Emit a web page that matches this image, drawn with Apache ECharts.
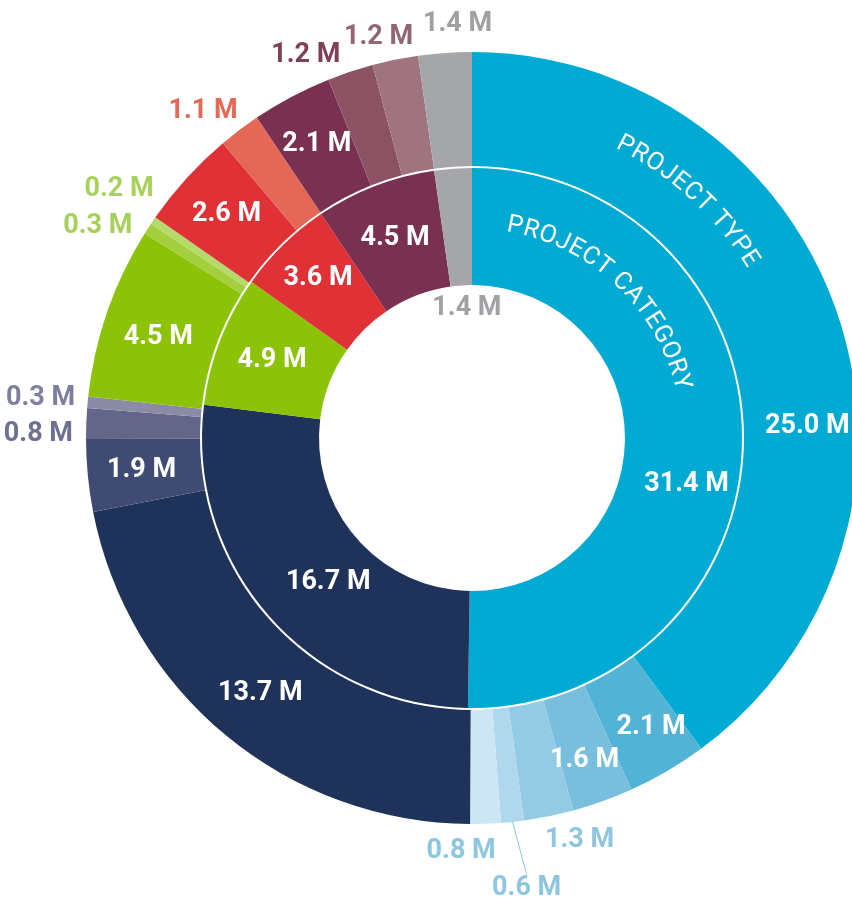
<!DOCTYPE html>
<html>
<head>
<meta charset="utf-8">
<script src="https://cdn.jsdelivr.net/npm/echarts@6/dist/echarts.min.js"></script>
<style>
html, body { margin: 0; padding: 0; background: #fff; }
#chart { width: 852px; height: 902px; }
</style>
</head>
<body>
<div id="chart"></div>
<script>
// funding in millions, clockwise from 12 o'clock
const categoryValues = [31.4, 16.7, 4.9, 3.6, 4.5, 1.4];
const typeValues = [25.0, 2.1, 1.6, 1.3, 0.6, 0.8, 13.7, 1.9, 0.8, 0.3, 4.5, 0.3, 0.2, 2.6, 1.1, 2.1, 1.2, 1.2, 1.4];
const ringTitles = ['PROJECT TYPE', 'PROJECT CATEGORY'];

const categoryColors = ['#00aad2', '#1e325a', '#8cc308', '#e03137', '#7a3050', '#a5a6aa'];
const typeColors = ['#00aad2', '#52b3d6', '#77bfdc', '#93cae4', '#b0d8ec', '#cde6f3',
    '#1e325a', '#404b73', '#636688', '#8b8ba8',
    '#8cc308', '#a3ce3e', '#b6d96c',
    '#e03137', '#e56856',
    '#7a3050', '#8b5264', '#a0747e',
    '#a5a6aa'];
const typeLabelColors = ['#fff', '#fff', '#fff', '#8ec5e0', '#8ec5e0', '#8ec5e0',
    '#fff', '#fff', '#6e7092', '#7e7f9f',
    '#fff', '#a6d05a', '#a8d25c',
    '#fff', '#e56955',
    '#fff', '#7e3f59', '#926571',
    '#9fa0a4'];

const cx = 472, cy = 438;
const innerRadius = [153, 270];
const outerRadius = [272, 386];

// small hand nudges of labels, as the designer placed them
const typeNudge = {0: [20, 92], 1: [11, 3], 2: [0, 10], 3: [26, 1], 4: [12, 46], 5: [-25, 10],
    8: [-5, 12], 9: [-4, 0], 10: [0, 8], 11: [-15, 20], 12: [0, -8], 14: [-15, 10],
    16: [-36, 9], 17: [-12, 0], 18: [14, -10]};
const categoryNudge = {0: [0, 45], 1: [18, 3], 3: [-4, -6], 5: [10, 84]};

// pick the most condensed installed face (the original uses a condensed sans)
const mctx = document.createElement('canvas').getContext('2d');
function setFont(f) { mctx.font = '1px monospace'; mctx.font = f; return mctx.font.indexOf('1px') < 0; }
const candidates = [
    ['normal', "'Liberation Sans Narrow'"],
    ['extra-condensed', "'Noto Sans'"],
    ['condensed', "'Noto Sans'"],
    ['condensed', "'DejaVu Sans'"],
    ['normal', 'Roboto']
];
let fontStyle = 'normal', fontFamily = 'Roboto', bestRatio = Infinity;
candidates.forEach(function (c) {
    if (!setFont(c[0] + ' bold 40px ' + c[1] + ', monospace')) return;
    const w = mctx.measureText('16.7 M').width;
    const h = mctx.measureText('M').actualBoundingBoxAscent;
    const ratio = w / h;
    if (ratio < bestRatio - 0.05) { bestRatio = ratio; fontStyle = c[0]; fontFamily = c[1]; }
});
function widthAt(size, weight, s) {
    setFont(fontStyle + ' ' + weight + ' ' + size + 'px ' + fontFamily);
    return mctx.measureText(s).width;
}
const labelSize = Math.min(34, Math.round(30 * 84 / widthAt(30, 'bold', '16.7 M')));
const titleSpacing = 1;
const titleSize = Math.min(30, Math.round((256 - titleSpacing * 16) / (widthAt(100, 'normal', ringTitles[1]) / 100)));

function midAngles(values) {
    const total = values.reduce((a, b) => a + b, 0);
    let acc = 0;
    return values.map(function (v) {
        const m = (acc + v / 2) / total * Math.PI * 2;
        acc += v;
        return m;
    });
}
const typeMid = midAngles(typeValues);

function fmt(p) { return p.value.toFixed(1) + ' M'; }

function arcText(text, radius, midDeg) {
    const chars = text.split('');
    const widths = chars.map(ch => widthAt(titleSize, 'normal', ch) + titleSpacing);
    const total = widths.reduce((a, b) => a + b, 0);
    let s = -total / 2;
    return chars.map(function (ch, i) {
        const a = midDeg * Math.PI / 180 + (s + widths[i] / 2) / radius;
        s += widths[i];
        return {
            type: 'text', z: 100,
            x: cx + radius * Math.sin(a), y: cy - radius * Math.cos(a), rotation: -a,
            style: { text: ch, fill: '#fff', fontSize: titleSize, fontFamily: fontFamily,
                fontStyle: fontStyle, align: 'center', verticalAlign: 'middle' }
        };
    });
}

const labelFont = { fontSize: labelSize, fontFamily: fontFamily, fontStyle: fontStyle, fontWeight: 'bold' };

const option = {
    backgroundColor: '#fff',
    animation: false,
    graphic: { elements: arcText(ringTitles[0], 330, 42.3).concat(arcText(ringTitles[1], 216, 43.2)) },
    series: [
        {
            type: 'pie',
            center: [cx, cy],
            radius: innerRadius,
            avoidLabelOverlap: false,
            label: Object.assign({ show: true, position: 'inside', color: '#fff', formatter: fmt }, labelFont),
            labelLine: { show: false },
            emphasis: { disabled: true },
            labelLayout: function (p) {
                const n = categoryNudge[p.dataIndex] || [0, 0];
                return { dx: n[0], dy: n[1] };
            },
            data: categoryValues.map((v, i) => ({
                value: v,
                itemStyle: { color: categoryColors[i] },
                label: i === 5 ? { color: '#a0a1a5' } : {}
            }))
        },
        {
            type: 'pie',
            center: [cx, cy],
            radius: outerRadius,
            avoidLabelOverlap: false,
            label: Object.assign({ show: true, position: 'inside', color: '#fff', formatter: fmt }, labelFont),
            labelLine: { show: false },
            emphasis: { disabled: true },
            labelLayout: function (p) {
                const i = p.dataIndex;
                const n = typeNudge[i] || [0, 0];
                if (typeValues[i] >= 1.5) return { dx: n[0], dy: n[1] };
                const a = typeMid[i];
                const hw = p.labelRect.width / 2, hh = p.labelRect.height / 2;
                const r = outerRadius[1] + 8 + hw * Math.abs(Math.sin(a)) + (hh - 5) * Math.abs(Math.cos(a));
                return { x: cx + r * Math.sin(a) + n[0], y: cy - r * Math.cos(a) + n[1],
                    align: 'center', verticalAlign: 'middle' };
            },
            data: typeValues.map((v, i) => ({
                value: v,
                itemStyle: { color: typeColors[i] },
                label: v < 1.5 ? { position: 'outside', color: typeLabelColors[i] } : {},
                labelLine: i === 4 ? { show: true, length: 38, length2: 0,
                    lineStyle: { color: '#8ec5e0', width: 1 } } : { show: false }
            }))
        }
    ]
};

const chart = echarts.init(document.getElementById('chart'));
chart.setOption(option);
</script>
</body>
</html>
